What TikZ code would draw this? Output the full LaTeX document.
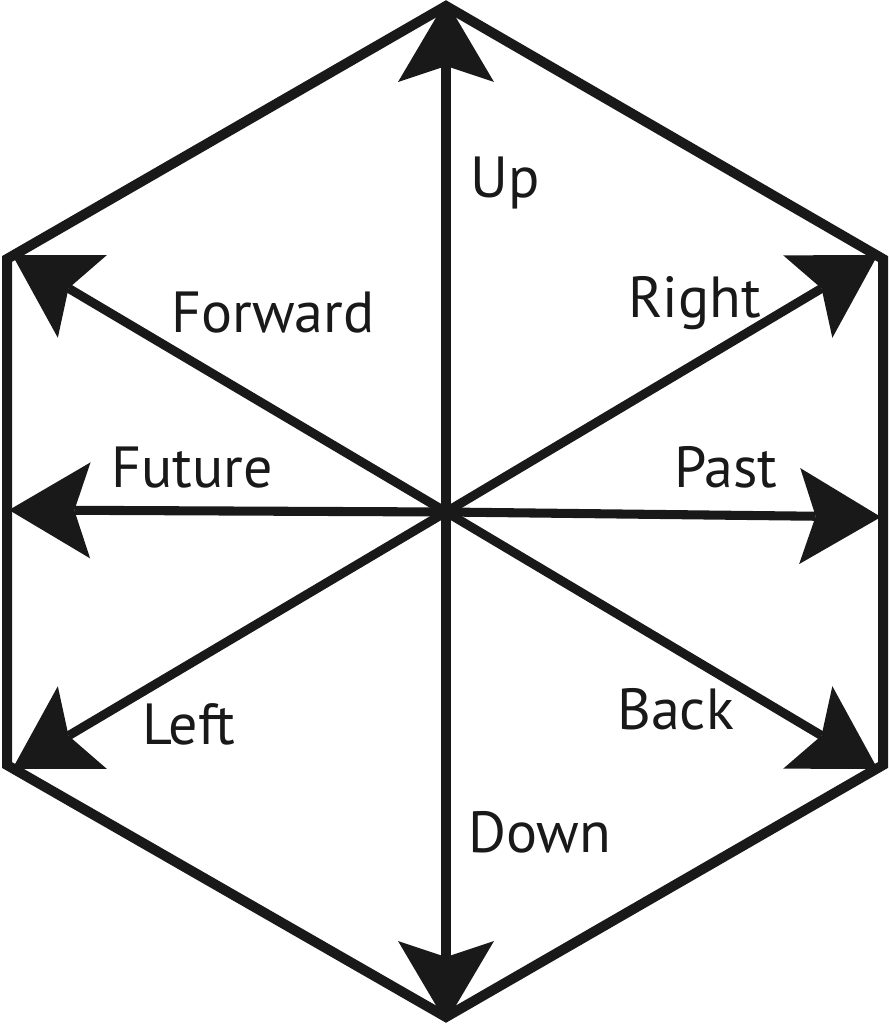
\documentclass[tikz,border=0pt]{standalone}
\usepackage{fontspec}
\setmainfont{PT Sans}
\usetikzlibrary{arrows.meta}
\begin{document}
\begin{tikzpicture}[x=0.75pt,y=-0.75pt,
  hexline/.style={line width=7.5pt,line join=miter,color=black!90},
  dirarrow/.style={line width=6.8pt,color=black!90,
    -{Stealth[length=61pt,width=72pt,inset=12pt,line width=0pt]}},
  lbl/.style={anchor=base west,inner sep=0pt,text=black!90,
    font=\fontsize{43.5}{50}\selectfont}]
\useasboundingbox (0,0) rectangle (890,1024);
\coordinate (T) at (446,6);
\coordinate (UR) at (883,259);
\coordinate (LR) at (883,765);
\coordinate (B) at (446,1017);
\coordinate (LL) at (7,765);
\coordinate (UL) at (7,259);
\coordinate (C) at (446,512);
\coordinate (R) at (881,517);
\coordinate (L) at (9,510);
\draw[hexline] (T) -- (UR) -- (LR) -- (B) -- (LL) -- (UL) -- cycle;
\draw[dirarrow] (C) -- ([yshift=4]T);
\draw[dirarrow] (C) -- ([xshift=-4,yshift=3]UR);
\draw[dirarrow] (C) -- (R);
\draw[dirarrow] (C) -- ([xshift=-4,yshift=-3]LR);
\draw[dirarrow] (C) -- ([yshift=-4]B);
\draw[dirarrow] (C) -- ([xshift=4,yshift=-3]LL);
\draw[dirarrow] (C) -- (L);
\draw[dirarrow] (C) -- ([xshift=4,yshift=3]UL);
\node[lbl] (up) at (470,197) {Up};
\node[lbl] (right) at (628,317) {Right};
\node[lbl] (forward) at (171,332) {Forward};
\node[lbl] (future) at (111,487) {Future};
\node[lbl] (past) at (674,487) {Past};
\node[lbl] (back) at (617,729) {Back};
\node[lbl] (left) at (142,744) {Left};
\node[lbl] (down) at (468,852) {Down};
\end{tikzpicture}
\end{document}
